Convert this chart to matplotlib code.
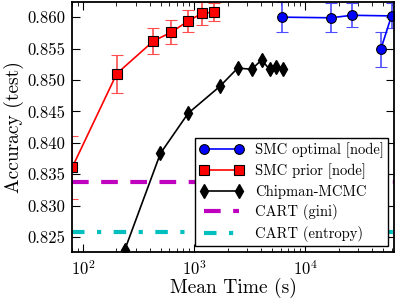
import numpy as np
import matplotlib.pyplot as plt

plt.rcParams['font.family'] = 'serif'
plt.rcParams['font.serif'] = ['cmr10']
plt.rcParams['mathtext.fontset'] = 'cm'
plt.rcParams['axes.formatter.use_mathtext'] = True
plt.rcParams['axes.unicode_minus'] = False

# SMC optimal [node]
opt_time = [6240, 17000, 26300, 59800, 47900]
opt_acc = [0.8600, 0.8599, 0.8603, 0.8602, 0.8549]
opt_err = [0.0024, 0.0023, 0.0019, 0.0020, 0.0028]

# SMC prior [node]
prior_time = [80, 201, 430, 623, 884, 1180, 1510]
prior_acc = [0.8361, 0.8510, 0.8562, 0.8576, 0.8594, 0.8606, 0.8608]
prior_err = [0.0050, 0.0030, 0.0021, 0.0019, 0.0018, 0.0018, 0.0014]

# Chipman-MCMC
mcmc_time = [237, 497, 884, 1710, 2470, 3300, 4050, 4770, 5510, 6360]
mcmc_acc = [0.8229, 0.8383, 0.8447, 0.8490, 0.8519, 0.8517, 0.8532, 0.8517, 0.8521, 0.8517]

cart_gini = 0.8338
cart_entropy = 0.8258

fig = plt.figure(figsize=(3.98, 2.99), dpi=100)
ax = fig.add_axes([0.181, 0.157, 0.809, 0.836])

eb1 = ax.errorbar(opt_time, opt_acc, yerr=opt_err, fmt='-o', color='b', ms=7,
                  mec='k', mew=0.8, lw=1.2, ecolor=(0.3, 0.3, 1.0), elinewidth=1.2,
                  capsize=4, capthick=1.2)
eb2 = ax.errorbar(prior_time, prior_acc, yerr=prior_err, fmt='-s', color='r', ms=7,
                  mec='k', mew=0.8, lw=1.2, ecolor=(1.0, 0.3, 0.3), elinewidth=1.2,
                  capsize=4, capthick=1.2)
l3, = ax.plot(mcmc_time, mcmc_acc, '-d', color='k', ms=7, lw=1.2)
l4 = ax.axhline(cart_gini, color='m', ls='--', lw=3, dashes=(4, 3))
l5 = ax.axhline(cart_entropy, color='c', ls='-.', lw=3, dashes=(3, 3, 1, 3))

ax.set_xscale('log')
ax.set_xlim(79.6, 63000)
ax.set_ylim(0.8226, 0.8624)
ax.set_yticks([0.825, 0.830, 0.835, 0.840, 0.845, 0.850, 0.855, 0.860])
ax.set_yticklabels(['0.825', '0.830', '0.835', '0.840', '0.845', '0.850', '0.855', '0.860'])
ax.tick_params(which='both', direction='in', top=True, right=True, labelsize=12)
ax.tick_params(which='major', length=6, pad=5)
ax.tick_params(which='minor', length=3)
for s in ax.spines.values():
    s.set_linewidth(1.3)

ax.set_xlabel('Mean Time (s)', fontsize=14, labelpad=0)
ax.set_ylabel('Accuracy (test)', fontsize=14, labelpad=2)

leg = ax.legend([eb1[0], eb2[0], l3, l4, l5],
                ['SMC optimal [node]', 'SMC prior [node]', 'Chipman-MCMC',
                 'CART (gini)', 'CART (entropy)'],
                loc='lower right', fontsize=10.5, numpoints=2, fancybox=False,
                framealpha=1, edgecolor='k', handlelength=3.0, borderaxespad=0.4,
                labelspacing=0.38, handletextpad=0.8, borderpad=0.3)
leg.get_frame().set_linewidth(1.0)

fig.savefig('out.png', dpi=100)
